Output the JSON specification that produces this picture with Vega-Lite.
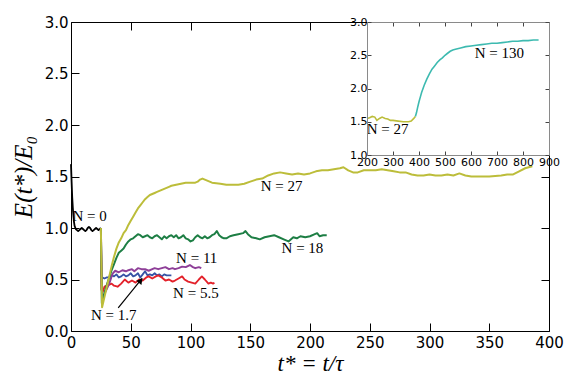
{
  "$schema": "https://vega.github.io/schema/vega-lite/v6.json",
  "width": 478,
  "height": 309,
  "autosize": {"type": "none"},
  "padding": {"left": 71, "top": 22, "right": 32, "bottom": 44},
  "background": "white",
  "config": {
    "view": {"stroke": null},
    "axis": {"grid": false, "labelFont": "DejaVu Sans", "labelColor": "black", "domainColor": "black", "tickColor": "black", "labelOverlap": false, "labelFlush": false, "domainWidth": 1, "tickWidth": 1}
  },
  "datasets": {
    "main": [
      {"N": "N=0", "t": 0, "E": 1.62}, {"N": "N=0", "t": 0.5, "E": 1.45}, {"N": "N=0", "t": 1, "E": 1.3}, {"N": "N=0", "t": 1.5, "E": 1.2}, {"N": "N=0", "t": 2, "E": 1.12}, {"N": "N=0", "t": 2.5, "E": 1.06}, {"N": "N=0", "t": 3, "E": 1.02}, {"N": "N=0", "t": 4, "E": 0.99}, {"N": "N=0", "t": 5, "E": 0.98}, {"N": "N=0", "t": 6, "E": 0.97}, {"N": "N=0", "t": 7, "E": 0.98}, {"N": "N=0", "t": 8, "E": 0.99}, {"N": "N=0", "t": 9, "E": 1.0}, {"N": "N=0", "t": 10, "E": 0.99}, {"N": "N=0", "t": 11, "E": 0.98}, {"N": "N=0", "t": 12, "E": 0.97}, {"N": "N=0", "t": 13, "E": 0.98}, {"N": "N=0", "t": 14, "E": 1.0}, {"N": "N=0", "t": 15, "E": 1.01}, {"N": "N=0", "t": 16, "E": 1.0}, {"N": "N=0", "t": 17, "E": 0.98}, {"N": "N=0", "t": 18, "E": 0.97}, {"N": "N=0", "t": 19, "E": 0.98}, {"N": "N=0", "t": 20, "E": 0.99}, {"N": "N=0", "t": 21, "E": 1.0}, {"N": "N=0", "t": 22, "E": 0.99}, {"N": "N=0", "t": 23, "E": 0.98}, {"N": "N=0", "t": 24, "E": 0.99}, {"N": "N=0", "t": 25, "E": 1.0},

      {"N": "N=1.7", "t": 25, "E": 1.0}, {"N": "N=1.7", "t": 25.5, "E": 0.55}, {"N": "N=1.7", "t": 26, "E": 0.52}, {"N": "N=1.7", "t": 28, "E": 0.51}, {"N": "N=1.7", "t": 30, "E": 0.52}, {"N": "N=1.7", "t": 32, "E": 0.52}, {"N": "N=1.7", "t": 34, "E": 0.54}, {"N": "N=1.7", "t": 36, "E": 0.53}, {"N": "N=1.7", "t": 38, "E": 0.55}, {"N": "N=1.7", "t": 40, "E": 0.52}, {"N": "N=1.7", "t": 42, "E": 0.53}, {"N": "N=1.7", "t": 44, "E": 0.55}, {"N": "N=1.7", "t": 46, "E": 0.53}, {"N": "N=1.7", "t": 48, "E": 0.54}, {"N": "N=1.7", "t": 50, "E": 0.56}, {"N": "N=1.7", "t": 52, "E": 0.53}, {"N": "N=1.7", "t": 54, "E": 0.54}, {"N": "N=1.7", "t": 56, "E": 0.56}, {"N": "N=1.7", "t": 58, "E": 0.52}, {"N": "N=1.7", "t": 60, "E": 0.55}, {"N": "N=1.7", "t": 62, "E": 0.58}, {"N": "N=1.7", "t": 64, "E": 0.54}, {"N": "N=1.7", "t": 66, "E": 0.55}, {"N": "N=1.7", "t": 68, "E": 0.54}, {"N": "N=1.7", "t": 70, "E": 0.56}, {"N": "N=1.7", "t": 72, "E": 0.54}, {"N": "N=1.7", "t": 74, "E": 0.55}, {"N": "N=1.7", "t": 76, "E": 0.53}, {"N": "N=1.7", "t": 78, "E": 0.55}, {"N": "N=1.7", "t": 80, "E": 0.54}, {"N": "N=1.7", "t": 84, "E": 0.54},

      {"N": "N=5.5", "t": 25, "E": 1.0}, {"N": "N=5.5", "t": 25.5, "E": 0.4}, {"N": "N=5.5", "t": 26.5, "E": 0.38}, {"N": "N=5.5", "t": 28, "E": 0.43}, {"N": "N=5.5", "t": 30, "E": 0.44}, {"N": "N=5.5", "t": 32, "E": 0.45}, {"N": "N=5.5", "t": 34, "E": 0.46}, {"N": "N=5.5", "t": 36, "E": 0.44}, {"N": "N=5.5", "t": 39, "E": 0.43}, {"N": "N=5.5", "t": 42, "E": 0.46}, {"N": "N=5.5", "t": 45, "E": 0.5}, {"N": "N=5.5", "t": 48, "E": 0.47}, {"N": "N=5.5", "t": 51, "E": 0.49}, {"N": "N=5.5", "t": 54, "E": 0.47}, {"N": "N=5.5", "t": 57, "E": 0.5}, {"N": "N=5.5", "t": 60, "E": 0.49}, {"N": "N=5.5", "t": 63, "E": 0.52}, {"N": "N=5.5", "t": 65, "E": 0.53}, {"N": "N=5.5", "t": 68, "E": 0.51}, {"N": "N=5.5", "t": 71, "E": 0.53}, {"N": "N=5.5", "t": 73, "E": 0.54}, {"N": "N=5.5", "t": 76, "E": 0.52}, {"N": "N=5.5", "t": 79, "E": 0.49}, {"N": "N=5.5", "t": 82, "E": 0.5}, {"N": "N=5.5", "t": 85, "E": 0.48}, {"N": "N=5.5", "t": 87, "E": 0.49}, {"N": "N=5.5", "t": 90, "E": 0.51}, {"N": "N=5.5", "t": 93, "E": 0.53}, {"N": "N=5.5", "t": 95, "E": 0.5}, {"N": "N=5.5", "t": 98, "E": 0.48}, {"N": "N=5.5", "t": 101, "E": 0.47}, {"N": "N=5.5", "t": 104, "E": 0.46}, {"N": "N=5.5", "t": 107, "E": 0.5}, {"N": "N=5.5", "t": 109.5, "E": 0.53}, {"N": "N=5.5", "t": 112, "E": 0.5}, {"N": "N=5.5", "t": 115, "E": 0.46}, {"N": "N=5.5", "t": 117, "E": 0.47}, {"N": "N=5.5", "t": 119, "E": 0.46}, {"N": "N=5.5", "t": 120, "E": 0.47},

      {"N": "N=11", "t": 25, "E": 1.0}, {"N": "N=11", "t": 26, "E": 0.32}, {"N": "N=11", "t": 28, "E": 0.36}, {"N": "N=11", "t": 30, "E": 0.41}, {"N": "N=11", "t": 32, "E": 0.46}, {"N": "N=11", "t": 34, "E": 0.53}, {"N": "N=11", "t": 35, "E": 0.56}, {"N": "N=11", "t": 37, "E": 0.585}, {"N": "N=11", "t": 40, "E": 0.57}, {"N": "N=11", "t": 43, "E": 0.59}, {"N": "N=11", "t": 46, "E": 0.58}, {"N": "N=11", "t": 48, "E": 0.59}, {"N": "N=11", "t": 51, "E": 0.6}, {"N": "N=11", "t": 53, "E": 0.58}, {"N": "N=11", "t": 56, "E": 0.61}, {"N": "N=11", "t": 59, "E": 0.6}, {"N": "N=11", "t": 62, "E": 0.6}, {"N": "N=11", "t": 65, "E": 0.585}, {"N": "N=11", "t": 68, "E": 0.6}, {"N": "N=11", "t": 70, "E": 0.61}, {"N": "N=11", "t": 73, "E": 0.6}, {"N": "N=11", "t": 76, "E": 0.61}, {"N": "N=11", "t": 79, "E": 0.62}, {"N": "N=11", "t": 82, "E": 0.6}, {"N": "N=11", "t": 85, "E": 0.61}, {"N": "N=11", "t": 87, "E": 0.6}, {"N": "N=11", "t": 90, "E": 0.61}, {"N": "N=11", "t": 93, "E": 0.625}, {"N": "N=11", "t": 96, "E": 0.62}, {"N": "N=11", "t": 99.5, "E": 0.64}, {"N": "N=11", "t": 102, "E": 0.62}, {"N": "N=11", "t": 104, "E": 0.61}, {"N": "N=11", "t": 107, "E": 0.62}, {"N": "N=11", "t": 109, "E": 0.61},

      {"N": "N=18", "t": 25, "E": 1.0}, {"N": "N=18", "t": 25.8, "E": 0.27}, {"N": "N=18", "t": 28, "E": 0.37}, {"N": "N=18", "t": 30, "E": 0.45}, {"N": "N=18", "t": 32, "E": 0.52}, {"N": "N=18", "t": 34, "E": 0.59}, {"N": "N=18", "t": 36, "E": 0.65}, {"N": "N=18", "t": 38, "E": 0.71}, {"N": "N=18", "t": 40, "E": 0.76}, {"N": "N=18", "t": 42, "E": 0.78}, {"N": "N=18", "t": 44, "E": 0.8}, {"N": "N=18", "t": 46, "E": 0.84}, {"N": "N=18", "t": 48, "E": 0.87}, {"N": "N=18", "t": 50, "E": 0.89}, {"N": "N=18", "t": 52, "E": 0.9}, {"N": "N=18", "t": 54, "E": 0.92}, {"N": "N=18", "t": 56, "E": 0.94}, {"N": "N=18", "t": 58, "E": 0.93}, {"N": "N=18", "t": 60, "E": 0.91}, {"N": "N=18", "t": 62, "E": 0.92}, {"N": "N=18", "t": 64, "E": 0.93}, {"N": "N=18", "t": 66, "E": 0.91}, {"N": "N=18", "t": 68, "E": 0.9}, {"N": "N=18", "t": 70, "E": 0.92}, {"N": "N=18", "t": 72, "E": 0.93}, {"N": "N=18", "t": 74, "E": 0.91}, {"N": "N=18", "t": 76, "E": 0.89}, {"N": "N=18", "t": 78, "E": 0.92}, {"N": "N=18", "t": 80, "E": 0.9}, {"N": "N=18", "t": 82, "E": 0.92}, {"N": "N=18", "t": 84, "E": 0.93}, {"N": "N=18", "t": 86, "E": 0.91}, {"N": "N=18", "t": 88, "E": 0.93}, {"N": "N=18", "t": 90, "E": 0.9}, {"N": "N=18", "t": 92, "E": 0.91}, {"N": "N=18", "t": 94, "E": 0.93}, {"N": "N=18", "t": 96, "E": 0.9}, {"N": "N=18", "t": 98, "E": 0.89}, {"N": "N=18", "t": 100, "E": 0.87}, {"N": "N=18", "t": 102, "E": 0.88}, {"N": "N=18", "t": 104, "E": 0.91}, {"N": "N=18", "t": 106, "E": 0.93}, {"N": "N=18", "t": 108, "E": 0.91}, {"N": "N=18", "t": 110, "E": 0.9}, {"N": "N=18", "t": 112, "E": 0.92}, {"N": "N=18", "t": 114, "E": 0.9}, {"N": "N=18", "t": 116, "E": 0.91}, {"N": "N=18", "t": 118, "E": 0.93}, {"N": "N=18", "t": 120, "E": 0.94}, {"N": "N=18", "t": 122, "E": 0.97}, {"N": "N=18", "t": 124, "E": 0.93}, {"N": "N=18", "t": 126, "E": 0.91}, {"N": "N=18", "t": 128, "E": 0.9}, {"N": "N=18", "t": 130, "E": 0.9}, {"N": "N=18", "t": 133, "E": 0.92}, {"N": "N=18", "t": 136, "E": 0.93}, {"N": "N=18", "t": 140, "E": 0.94}, {"N": "N=18", "t": 144, "E": 0.95}, {"N": "N=18", "t": 146, "E": 0.97}, {"N": "N=18", "t": 148, "E": 0.94}, {"N": "N=18", "t": 151, "E": 0.91}, {"N": "N=18", "t": 155, "E": 0.9}, {"N": "N=18", "t": 158, "E": 0.89}, {"N": "N=18", "t": 162, "E": 0.91}, {"N": "N=18", "t": 166, "E": 0.92}, {"N": "N=18", "t": 170, "E": 0.93}, {"N": "N=18", "t": 174, "E": 0.91}, {"N": "N=18", "t": 178, "E": 0.89}, {"N": "N=18", "t": 182, "E": 0.87}, {"N": "N=18", "t": 186, "E": 0.91}, {"N": "N=18", "t": 189, "E": 0.9}, {"N": "N=18", "t": 192, "E": 0.92}, {"N": "N=18", "t": 196, "E": 0.91}, {"N": "N=18", "t": 200, "E": 0.92}, {"N": "N=18", "t": 204, "E": 0.94}, {"N": "N=18", "t": 206, "E": 0.95}, {"N": "N=18", "t": 208, "E": 0.92}, {"N": "N=18", "t": 211, "E": 0.93}, {"N": "N=18", "t": 214, "E": 0.93},

      {"N": "N=27", "t": 25, "E": 1.0}, {"N": "N=27", "t": 26, "E": 0.23}, {"N": "N=27", "t": 28, "E": 0.33}, {"N": "N=27", "t": 30, "E": 0.43}, {"N": "N=27", "t": 32, "E": 0.53}, {"N": "N=27", "t": 34, "E": 0.63}, {"N": "N=27", "t": 36, "E": 0.72}, {"N": "N=27", "t": 38, "E": 0.8}, {"N": "N=27", "t": 40, "E": 0.86}, {"N": "N=27", "t": 42, "E": 0.9}, {"N": "N=27", "t": 44, "E": 0.95}, {"N": "N=27", "t": 46, "E": 0.98}, {"N": "N=27", "t": 48, "E": 1.03}, {"N": "N=27", "t": 50, "E": 1.07}, {"N": "N=27", "t": 52, "E": 1.11}, {"N": "N=27", "t": 54, "E": 1.15}, {"N": "N=27", "t": 56, "E": 1.19}, {"N": "N=27", "t": 58, "E": 1.22}, {"N": "N=27", "t": 60, "E": 1.25}, {"N": "N=27", "t": 62, "E": 1.28}, {"N": "N=27", "t": 64, "E": 1.3}, {"N": "N=27", "t": 66, "E": 1.32}, {"N": "N=27", "t": 68, "E": 1.33}, {"N": "N=27", "t": 70, "E": 1.34}, {"N": "N=27", "t": 72, "E": 1.35}, {"N": "N=27", "t": 74, "E": 1.36}, {"N": "N=27", "t": 76, "E": 1.37}, {"N": "N=27", "t": 78, "E": 1.38}, {"N": "N=27", "t": 80, "E": 1.39}, {"N": "N=27", "t": 82, "E": 1.4}, {"N": "N=27", "t": 84, "E": 1.41}, {"N": "N=27", "t": 88, "E": 1.42}, {"N": "N=27", "t": 92, "E": 1.43}, {"N": "N=27", "t": 96, "E": 1.44}, {"N": "N=27", "t": 100, "E": 1.44}, {"N": "N=27", "t": 104, "E": 1.44}, {"N": "N=27", "t": 106, "E": 1.45}, {"N": "N=27", "t": 108, "E": 1.47}, {"N": "N=27", "t": 110, "E": 1.48}, {"N": "N=27", "t": 112, "E": 1.47}, {"N": "N=27", "t": 114, "E": 1.46}, {"N": "N=27", "t": 116, "E": 1.45}, {"N": "N=27", "t": 118, "E": 1.44}, {"N": "N=27", "t": 125, "E": 1.43}, {"N": "N=27", "t": 130, "E": 1.42}, {"N": "N=27", "t": 135, "E": 1.42}, {"N": "N=27", "t": 140, "E": 1.42}, {"N": "N=27", "t": 145, "E": 1.43}, {"N": "N=27", "t": 150, "E": 1.45}, {"N": "N=27", "t": 155, "E": 1.47}, {"N": "N=27", "t": 160, "E": 1.48}, {"N": "N=27", "t": 165, "E": 1.51}, {"N": "N=27", "t": 170, "E": 1.53}, {"N": "N=27", "t": 175, "E": 1.54}, {"N": "N=27", "t": 180, "E": 1.53}, {"N": "N=27", "t": 185, "E": 1.52}, {"N": "N=27", "t": 190, "E": 1.53}, {"N": "N=27", "t": 195, "E": 1.52}, {"N": "N=27", "t": 200, "E": 1.53}, {"N": "N=27", "t": 205, "E": 1.55}, {"N": "N=27", "t": 210, "E": 1.56}, {"N": "N=27", "t": 215, "E": 1.56}, {"N": "N=27", "t": 220, "E": 1.57}, {"N": "N=27", "t": 225, "E": 1.58}, {"N": "N=27", "t": 228, "E": 1.59}, {"N": "N=27", "t": 232, "E": 1.56}, {"N": "N=27", "t": 236, "E": 1.54}, {"N": "N=27", "t": 240, "E": 1.54}, {"N": "N=27", "t": 245, "E": 1.56}, {"N": "N=27", "t": 250, "E": 1.56}, {"N": "N=27", "t": 255, "E": 1.56}, {"N": "N=27", "t": 260, "E": 1.57}, {"N": "N=27", "t": 265, "E": 1.56}, {"N": "N=27", "t": 270, "E": 1.55}, {"N": "N=27", "t": 275, "E": 1.54}, {"N": "N=27", "t": 280, "E": 1.54}, {"N": "N=27", "t": 285, "E": 1.52}, {"N": "N=27", "t": 290, "E": 1.51}, {"N": "N=27", "t": 295, "E": 1.51}, {"N": "N=27", "t": 300, "E": 1.52}, {"N": "N=27", "t": 305, "E": 1.51}, {"N": "N=27", "t": 310, "E": 1.51}, {"N": "N=27", "t": 315, "E": 1.52}, {"N": "N=27", "t": 320, "E": 1.51}, {"N": "N=27", "t": 325, "E": 1.53}, {"N": "N=27", "t": 330, "E": 1.51}, {"N": "N=27", "t": 335, "E": 1.5}, {"N": "N=27", "t": 340, "E": 1.5}, {"N": "N=27", "t": 350, "E": 1.5}, {"N": "N=27", "t": 360, "E": 1.51}, {"N": "N=27", "t": 365, "E": 1.52}, {"N": "N=27", "t": 370, "E": 1.52}, {"N": "N=27", "t": 375, "E": 1.55}, {"N": "N=27", "t": 380, "E": 1.58}, {"N": "N=27", "t": 386, "E": 1.6}
    ],
    "mainLabels": [
      {"label": "N = 0", "t": 15.6, "E": 1.12},
      {"label": "N = 27", "t": 176.3, "E": 1.41},
      {"label": "N = 18", "t": 193.7, "E": 0.81},
      {"label": "N = 11", "t": 105.2, "E": 0.706},
      {"label": "N = 5.5", "t": 104.5, "E": 0.366},
      {"label": "N = 1.7", "t": 35.8, "E": 0.155}
    ],
    "arrow": [{"t": 39.5, "E": 0.225, "t2": 59.5, "E2": 0.51}],
    "arrowHead": [{"t": 58.3, "E": 0.49}],
    "inset": [
      {"N": "N=27", "t": 200, "E": 1.55}, {"N": "N=27", "t": 210, "E": 1.56}, {"N": "N=27", "t": 220, "E": 1.58}, {"N": "N=27", "t": 230, "E": 1.57}, {"N": "N=27", "t": 238, "E": 1.52}, {"N": "N=27", "t": 248, "E": 1.55}, {"N": "N=27", "t": 258, "E": 1.57}, {"N": "N=27", "t": 270, "E": 1.55}, {"N": "N=27", "t": 280, "E": 1.54}, {"N": "N=27", "t": 290, "E": 1.52}, {"N": "N=27", "t": 300, "E": 1.52}, {"N": "N=27", "t": 320, "E": 1.51}, {"N": "N=27", "t": 340, "E": 1.5}, {"N": "N=27", "t": 360, "E": 1.5}, {"N": "N=27", "t": 370, "E": 1.51}, {"N": "N=27", "t": 380, "E": 1.55}, {"N": "N=27", "t": 386, "E": 1.58},
      {"N": "N=130", "t": 386, "E": 1.58}, {"N": "N=130", "t": 390, "E": 1.63}, {"N": "N=130", "t": 395, "E": 1.72}, {"N": "N=130", "t": 400, "E": 1.8}, {"N": "N=130", "t": 405, "E": 1.87}, {"N": "N=130", "t": 410, "E": 1.94}, {"N": "N=130", "t": 420, "E": 2.05}, {"N": "N=130", "t": 430, "E": 2.14}, {"N": "N=130", "t": 440, "E": 2.22}, {"N": "N=130", "t": 450, "E": 2.29}, {"N": "N=130", "t": 460, "E": 2.34}, {"N": "N=130", "t": 470, "E": 2.39}, {"N": "N=130", "t": 480, "E": 2.43}, {"N": "N=130", "t": 490, "E": 2.46}, {"N": "N=130", "t": 500, "E": 2.5}, {"N": "N=130", "t": 510, "E": 2.53}, {"N": "N=130", "t": 520, "E": 2.56}, {"N": "N=130", "t": 530, "E": 2.58}, {"N": "N=130", "t": 540, "E": 2.59}, {"N": "N=130", "t": 560, "E": 2.61}, {"N": "N=130", "t": 580, "E": 2.63}, {"N": "N=130", "t": 600, "E": 2.64}, {"N": "N=130", "t": 620, "E": 2.65}, {"N": "N=130", "t": 640, "E": 2.66}, {"N": "N=130", "t": 660, "E": 2.67}, {"N": "N=130", "t": 680, "E": 2.68}, {"N": "N=130", "t": 700, "E": 2.68}, {"N": "N=130", "t": 720, "E": 2.69}, {"N": "N=130", "t": 740, "E": 2.7}, {"N": "N=130", "t": 760, "E": 2.71}, {"N": "N=130", "t": 780, "E": 2.71}, {"N": "N=130", "t": 800, "E": 2.72}, {"N": "N=130", "t": 820, "E": 2.72}, {"N": "N=130", "t": 840, "E": 2.73}, {"N": "N=130", "t": 860, "E": 2.73}
    ],
    "insetLabels": [
      {"label": "N = 27", "t": 279, "E": 1.385},
      {"label": "N = 130", "t": 709, "E": 2.54}
    ]
  },
  "layer": [
    {
      "layer": [
        {
          "data": {"name": "main"},
          "mark": {"type": "line", "strokeJoin": "round"},
          "encoding": {
            "x": {"field": "t", "type": "quantitative", "scale": {"domain": [0, 400], "nice": false, "zero": false},
              "axis": {"orient": "bottom", "values": [0, 50, 100, 150, 200, 250, 300, 350, 400], "tickSize": -8, "labelPadding": 12, "labelFontSize": 15, "title": "t* = t/τ", "titleFont": "Liberation Serif", "titleFontStyle": "italic", "titleFontWeight": "normal", "titleFontSize": 23, "titleColor": "black", "titlePadding": 2, "zindex": 0}},
            "y": {"field": "E", "type": "quantitative", "scale": {"domain": [0, 3], "nice": false, "zero": false},
              "axis": {"orient": "left", "values": [0, 0.5, 1, 1.5, 2, 2.5, 3], "format": ".1f", "tickSize": -8, "labelPadding": 11, "labelFontSize": 15, "title": "E(t*)/E₀", "titleFont": "Liberation Serif", "titleFontStyle": "italic", "titleFontWeight": "normal", "titleFontSize": 25, "titleColor": "black", "titlePadding": 8, "zindex": 0}},
            "color": {"field": "N", "type": "nominal", "legend": null,
              "scale": {"domain": ["N=0", "N=1.7", "N=5.5", "N=11", "N=18", "N=27", "N=130"], "range": ["#000000", "#3553a5", "#e3222b", "#8e3f98", "#1d7e44", "#bcbd3a", "#3dbab0"]}},
            "strokeWidth": {"field": "N", "type": "ordinal", "legend": null,
              "scale": {"domain": ["N=0", "N=1.7", "N=5.5", "N=11", "N=18", "N=27"], "range": [1.8, 2, 2, 2, 2.6, 3]}}
          }
        },
        {
          "data": {"name": "mainLabels"},
          "mark": {"type": "text", "font": "Liberation Serif", "fontSize": 15, "color": "black"},
          "encoding": {
            "x": {"field": "t", "type": "quantitative", "axis": {"orient": "top", "values": [0, 50, 100, 150, 200, 250, 300, 350, 400], "labels": false, "tickSize": -8, "title": null, "zindex": 0}},
            "y": {"field": "E", "type": "quantitative", "axis": {"orient": "right", "values": [0, 0.5, 1, 1.5, 2, 2.5, 3], "labels": false, "tickSize": -8, "title": null, "zindex": 0}},
            "text": {"field": "label"}
          }
        },
        {
          "data": {"name": "arrow"},
          "mark": {"type": "rule", "color": "black", "strokeWidth": 1.2},
          "encoding": {
            "x": {"field": "t", "type": "quantitative", "axis": null},
            "y": {"field": "E", "type": "quantitative", "axis": null},
            "x2": {"field": "t2"},
            "y2": {"field": "E2"}
          }
        },
        {
          "data": {"name": "arrowHead"},
          "mark": {"type": "point", "shape": "triangle-up", "angle": 39, "size": 45, "filled": true, "color": "black", "opacity": 1},
          "encoding": {
            "x": {"field": "t", "type": "quantitative", "axis": null},
            "y": {"field": "E", "type": "quantitative", "axis": null}
          }
        }
      ],
      "resolve": {"axis": {"x": "independent", "y": "independent"}}
    },
    {
      "layer": [
        {
          "data": {"values": [{}]},
          "mark": {"type": "rect", "fill": "white", "strokeWidth": 0},
          "encoding": {
            "x": {"datum": 200, "type": "quantitative", "scale": {"domain": [200, 900], "range": [296, 478], "nice": false, "zero": false},
              "axis": {"orient": "bottom", "offset": -176, "values": [200, 300, 400, 500, 600, 700, 800, 900], "tickSize": -4, "labelPadding": 5, "labelFontSize": 11, "domainColor": "#8a8a8a", "tickColor": "#444444", "title": null, "zindex": 1}},
            "x2": {"datum": 900},
            "y": {"datum": 1, "type": "quantitative", "scale": {"domain": [1, 3], "range": [133, 0], "nice": false, "zero": false},
              "axis": {"orient": "left", "offset": -296, "values": [1, 1.5, 2, 2.5, 3], "format": ".1f", "tickSize": -4, "labelPadding": 4, "labelFontSize": 11, "domainColor": "#8a8a8a", "tickColor": "#444444", "title": null, "zindex": 1}},
            "y2": {"datum": 3}
          }
        },
        {
          "data": {"name": "inset"},
          "mark": {"type": "line", "strokeWidth": 1.6},
          "encoding": {
            "x": {"field": "t", "type": "quantitative",
              "axis": {"orient": "top", "values": [200, 300, 400, 500, 600, 700, 800, 900], "labels": false, "tickSize": -4, "domainColor": "#8a8a8a", "tickColor": "#444444", "title": null, "zindex": 1}},
            "y": {"field": "E", "type": "quantitative",
              "axis": {"orient": "right", "values": [1, 1.5, 2, 2.5, 3], "labels": false, "tickSize": -4, "domainColor": "#8a8a8a", "tickColor": "#444444", "title": null, "zindex": 1}},
            "color": {"field": "N", "type": "nominal", "legend": null,
              "scale": {"domain": ["N=0", "N=1.7", "N=5.5", "N=11", "N=18", "N=27", "N=130"], "range": ["#000000", "#3553a5", "#e3222b", "#8e3f98", "#1d7e44", "#bcbd3a", "#3dbab0"]}}
          }
        },
        {
          "data": {"name": "insetLabels"},
          "mark": {"type": "text", "font": "Liberation Serif", "fontSize": 15, "color": "black"},
          "encoding": {
            "x": {"field": "t", "type": "quantitative", "axis": null},
            "y": {"field": "E", "type": "quantitative", "axis": null},
            "text": {"field": "label"}
          }
        }
      ],
      "resolve": {"axis": {"x": "independent", "y": "independent"}}
    }
  ],
  "resolve": {"scale": {"x": "independent", "y": "independent", "strokeWidth": "independent"}}
}
